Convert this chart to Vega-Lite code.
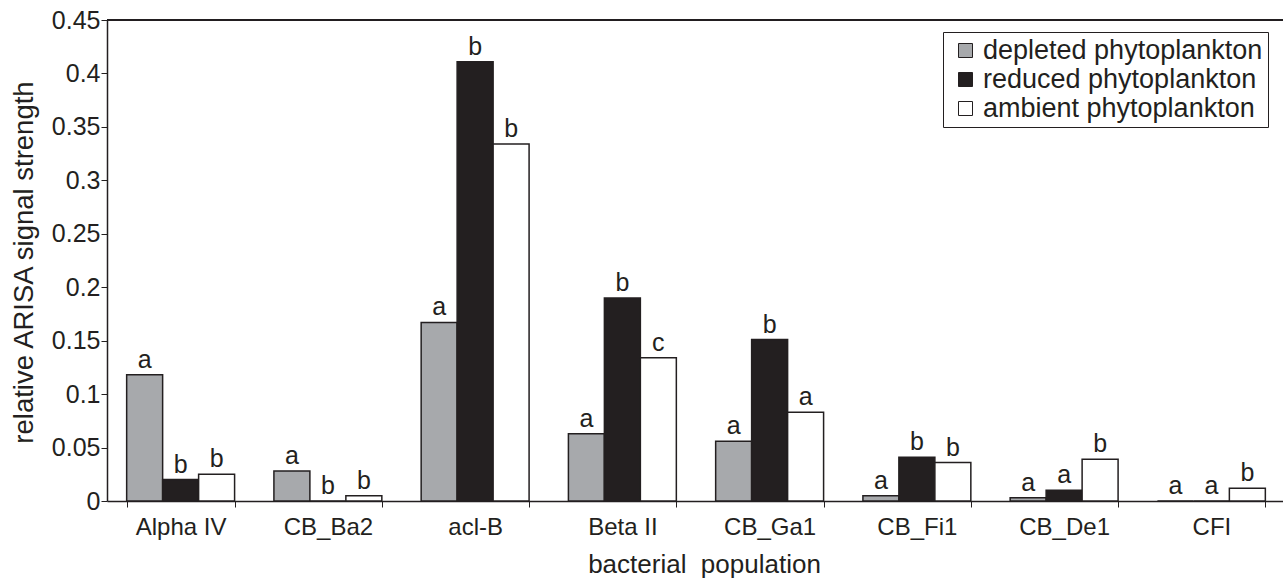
{
  "$schema": "https://vega.github.io/schema/vega-lite/v6.json",
  "width": 1178,
  "height": 481,
  "autosize": {"type": "none"},
  "padding": {"left": 107, "top": 20, "right": 0, "bottom": 78},
  "background": "white",
  "config": {
    "font": "Liberation Sans",
    "view": {"stroke": null},
    "axis": {
      "grid": false,
      "domainColor": "#231f20",
      "domainWidth": 1.5,
      "tickColor": "#231f20",
      "tickWidth": 1,
      "labelColor": "#231f20",
      "titleColor": "#231f20",
      "labelFont": "Liberation Sans",
      "titleFont": "Liberation Sans",
      "titleFontWeight": "normal"
    }
  },
  "data": {
    "values": [
      {"population": "Alpha IV", "treatment": "depleted phytoplankton", "value": 0.118, "letter": "a"},
      {"population": "Alpha IV", "treatment": "reduced phytoplankton", "value": 0.020, "letter": "b"},
      {"population": "Alpha IV", "treatment": "ambient phytoplankton", "value": 0.025, "letter": "b"},
      {"population": "CB_Ba2", "treatment": "depleted phytoplankton", "value": 0.028, "letter": "a"},
      {"population": "CB_Ba2", "treatment": "reduced phytoplankton", "value": 0.0, "letter": "b"},
      {"population": "CB_Ba2", "treatment": "ambient phytoplankton", "value": 0.005, "letter": "b"},
      {"population": "acl-B", "treatment": "depleted phytoplankton", "value": 0.167, "letter": "a"},
      {"population": "acl-B", "treatment": "reduced phytoplankton", "value": 0.411, "letter": "b"},
      {"population": "acl-B", "treatment": "ambient phytoplankton", "value": 0.334, "letter": "b"},
      {"population": "Beta II", "treatment": "depleted phytoplankton", "value": 0.063, "letter": "a"},
      {"population": "Beta II", "treatment": "reduced phytoplankton", "value": 0.190, "letter": "b"},
      {"population": "Beta II", "treatment": "ambient phytoplankton", "value": 0.134, "letter": "c"},
      {"population": "CB_Ga1", "treatment": "depleted phytoplankton", "value": 0.056, "letter": "a"},
      {"population": "CB_Ga1", "treatment": "reduced phytoplankton", "value": 0.151, "letter": "b"},
      {"population": "CB_Ga1", "treatment": "ambient phytoplankton", "value": 0.083, "letter": "a"},
      {"population": "CB_Fi1", "treatment": "depleted phytoplankton", "value": 0.005, "letter": "a"},
      {"population": "CB_Fi1", "treatment": "reduced phytoplankton", "value": 0.041, "letter": "b"},
      {"population": "CB_Fi1", "treatment": "ambient phytoplankton", "value": 0.036, "letter": "b"},
      {"population": "CB_De1", "treatment": "depleted phytoplankton", "value": 0.003, "letter": "a"},
      {"population": "CB_De1", "treatment": "reduced phytoplankton", "value": 0.010, "letter": "a"},
      {"population": "CB_De1", "treatment": "ambient phytoplankton", "value": 0.039, "letter": "b"},
      {"population": "CFI", "treatment": "depleted phytoplankton", "value": 0.0, "letter": "a"},
      {"population": "CFI", "treatment": "reduced phytoplankton", "value": 0.0, "letter": "a"},
      {"population": "CFI", "treatment": "ambient phytoplankton", "value": 0.012, "letter": "b"}
    ]
  },
  "layer": [
    {
      "mark": {"type": "bar", "stroke": "#231f20", "strokeWidth": 1.5},
      "encoding": {
        "x": {
          "field": "population",
          "type": "nominal",
          "sort": ["Alpha IV", "CB_Ba2", "acl-B", "Beta II", "CB_Ga1", "CB_Fi1", "CB_De1", "CFI"],
          "scale": {"paddingInner": 0.267, "paddingOuter": 0.1335},
          "axis": {
            "title": "bacterial\u00a0 population",
            "titleFontSize": 26,
            "titleBaseline": "alphabetic",
            "titleX": 597,
            "titleY": 71,
            "labelAngle": 0,
            "labelFontSize": 24,
            "labelPadding": 8,
            "tickSize": 6,
            "tickBand": "extent"
          }
        },
        "xOffset": {
          "field": "treatment",
          "type": "nominal",
          "sort": ["depleted phytoplankton", "reduced phytoplankton", "ambient phytoplankton"],
          "scale": {"paddingInner": 0, "paddingOuter": 0}
        },
        "y": {
          "field": "value",
          "type": "quantitative",
          "scale": {"domain": [0, 0.45], "nice": false, "zero": true},
          "axis": {
            "title": "relative ARISA signal strength",
            "titleFontSize": 27.5,
            "titleAngle": -90,
            "titleBaseline": "alphabetic",
            "titleAlign": "center",
            "titleX": -75,
            "titleY": 242,
            "values": [0, 0.05, 0.1, 0.15, 0.2, 0.25, 0.3, 0.35, 0.4, 0.45],
            "format": "~g",
            "labelFontSize": 25,
            "labelPadding": 1,
            "tickSize": 6
          }
        },
        "color": {
          "field": "treatment",
          "type": "nominal",
          "sort": ["depleted phytoplankton", "reduced phytoplankton", "ambient phytoplankton"],
          "scale": {
            "domain": ["depleted phytoplankton", "reduced phytoplankton", "ambient phytoplankton"],
            "range": ["#a7a9ac", "#231f20", "#ffffff"]
          },
          "legend": {
            "title": null,
            "orient": "none",
            "legendX": 836,
            "legendY": 12,
            "strokeColor": "#231f20",
            "fillColor": "white",
            "padding": 5,
            "symbolType": "square",
            "symbolSize": 196,
            "symbolStrokeColor": "#231f20",
            "symbolStrokeWidth": 1,
            "symbolOpacity": 1,
            "symbolOffset": 4,
            "labelFontSize": 27,
            "labelColor": "#231f20",
            "labelFont": "Liberation Sans",
            "labelOffset": 4,
            "labelLimit": 400,
            "rowPadding": 1
          }
        }
      }
    },
    {
      "mark": {"type": "text", "baseline": "alphabetic", "align": "center", "dy": -7, "fontSize": 25, "color": "#231f20", "font": "Liberation Sans"},
      "encoding": {
        "x": {"field": "population", "type": "nominal", "sort": ["Alpha IV", "CB_Ba2", "acl-B", "Beta II", "CB_Ga1", "CB_Fi1", "CB_De1", "CFI"]},
        "xOffset": {"field": "treatment", "type": "nominal", "sort": ["depleted phytoplankton", "reduced phytoplankton", "ambient phytoplankton"]},
        "y": {"field": "value", "type": "quantitative"},
        "text": {"field": "letter"}
      }
    },
    {
      "mark": {"type": "rule", "color": "#231f20", "strokeWidth": 1.5},
      "encoding": {
        "y": {"datum": 0.45}
      }
    }
  ]
}
